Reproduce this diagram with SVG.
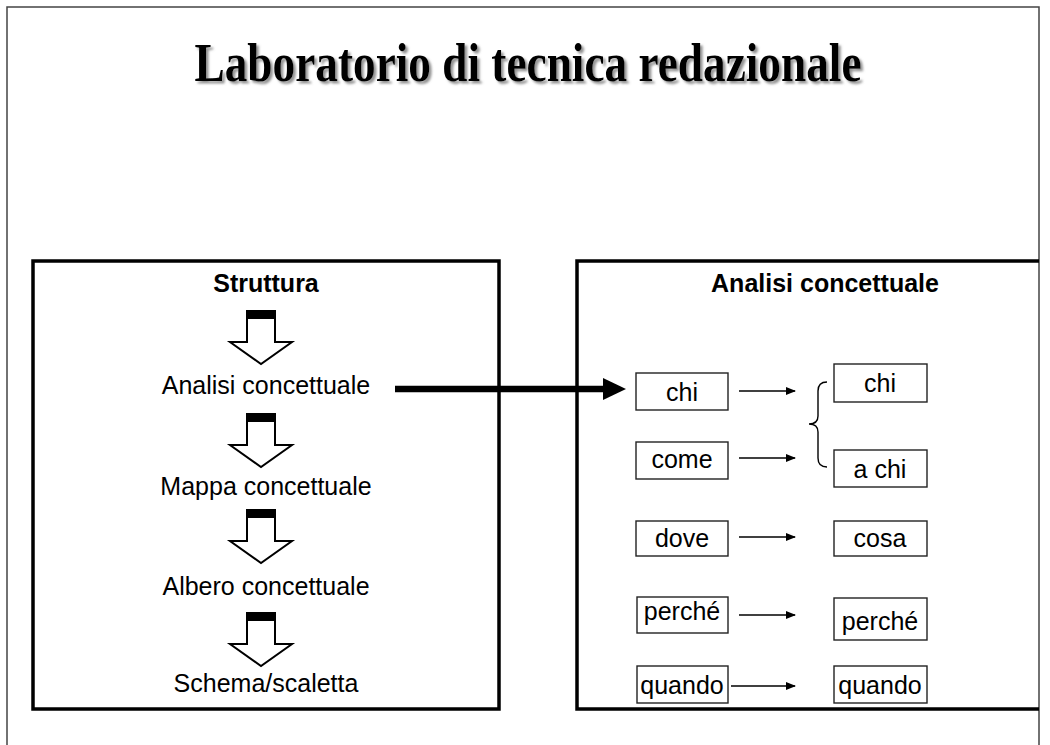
<svg xmlns="http://www.w3.org/2000/svg" width="1050" height="745" viewBox="0 0 1050 745">
  <style>
    .t { font-family: "Liberation Sans", Arial, sans-serif; font-size: 25px; fill: #000; text-anchor: middle; }
    .b { font-weight: bold; }
    .box { fill: #fff; stroke: #222; stroke-width: 1.4; }
    .frame { fill: none; stroke: #000; stroke-width: 3.5; }
    .conn { fill: none; stroke: #000; stroke-width: 1.4; }
  </style>
  <defs>
    <marker id="ah" markerWidth="10" markerHeight="8" refX="9" refY="4" orient="auto" markerUnits="userSpaceOnUse">
      <path d="M0,0 L10,4 L0,8 Z" fill="#000"/>
    </marker>
    <g id="hollow">
      <path d="M-14,0 H14 V31 H31 L0,53 L-31,31 H-14 Z" fill="#fff" stroke="#000" stroke-width="2"/>
      <rect x="-14" y="0" width="28" height="8" fill="#000"/>
    </g>
    <filter id="shadow" x="-5%" y="-20%" width="110%" height="150%">
      <feDropShadow dx="2.5" dy="2.5" stdDeviation="1" flood-color="#777" flood-opacity="0.8"/>
    </filter>
  </defs>

  <rect width="1050" height="745" fill="#fff"/>
  <path d="M7,745 V7 H1039 V745" fill="none" stroke="#444" stroke-width="1.5"/>

  <text x="528" y="81" font-family="'Liberation Serif', 'Times New Roman', serif" font-size="54" font-weight="bold" text-anchor="middle" textLength="667" lengthAdjust="spacingAndGlyphs" filter="url(#shadow)">Laboratorio di tecnica redazionale</text>

  <g id="left-panel">
    <rect class="frame" x="33" y="261" width="466" height="448"/>
    <text class="t b" x="266" y="292">Struttura</text>
  </g>
  <g id="right-panel">
    <path class="frame" d="M1039,261 H577 V709 H1039"/>
    <text class="t b" x="825" y="292">Analisi concettuale</text>
  </g>

  <g id="structure-steps">
    <use href="#hollow" x="261" y="311"/>
    <text class="t" x="266" y="394">Analisi concettuale</text>
    <use href="#hollow" x="261" y="414"/>
    <text class="t" x="266" y="495">Mappa concettuale</text>
    <use href="#hollow" x="261" y="510"/>
    <text class="t" x="266" y="595">Albero concettuale</text>
    <use href="#hollow" x="261" y="613"/>
    <text class="t" x="266" y="692">Schema/scaletta</text>
  </g>

  <g id="n-chi-l"><rect class="box" x="636" y="373" width="92" height="37"/><text class="t" x="682" y="401">chi</text></g>
  <g id="n-come-l"><rect class="box" x="636" y="442" width="92" height="37"/><text class="t" x="682" y="468">come</text></g>
  <g id="n-dove-l"><rect class="box" x="636" y="521" width="92" height="35"/><text class="t" x="682" y="547">dove</text></g>
  <g id="n-perche-l"><rect class="box" x="637" y="597" width="91" height="36"/><text class="t" x="682" y="620">perché</text></g>
  <g id="n-quando-l"><rect class="box" x="637" y="666" width="91" height="37"/><text class="t" x="682" y="694">quando</text></g>

  <g id="n-chi-r"><rect class="box" x="834" y="364" width="93" height="38"/><text class="t" x="880" y="392">chi</text></g>
  <g id="n-achi-r"><rect class="box" x="834" y="450" width="93" height="37"/><text class="t" x="880" y="478">a chi</text></g>
  <g id="n-cosa-r"><rect class="box" x="834" y="521" width="93" height="35"/><text class="t" x="880" y="547">cosa</text></g>
  <g id="n-perche-r"><rect class="box" x="834" y="598" width="93" height="42"/><text class="t" x="880" y="630">perché</text></g>
  <g id="n-quando-r"><rect class="box" x="834" y="666" width="93" height="37"/><text class="t" x="880" y="694">quando</text></g>

  <g id="connectors">
    <line x1="395" y1="389" x2="606" y2="389" stroke="#000" stroke-width="6.5"/>
    <path d="M603,378 L626,389 L603,400 Z" fill="#000"/>
    <line class="conn" x1="739" y1="391" x2="795" y2="391" marker-end="url(#ah)"/>
    <line class="conn" x1="739" y1="458" x2="795" y2="458" marker-end="url(#ah)"/>
    <line class="conn" x1="739" y1="537" x2="795" y2="537" marker-end="url(#ah)"/>
    <line class="conn" x1="739" y1="615" x2="795" y2="615" marker-end="url(#ah)"/>
    <line class="conn" x1="731" y1="686" x2="795" y2="686" marker-end="url(#ah)"/>
    <path class="conn" d="M827,382 Q818,382 818,391 V416 Q818,424 809,424 Q818,424 818,432 V458 Q818,467 827,467"/>
  </g>
</svg>
